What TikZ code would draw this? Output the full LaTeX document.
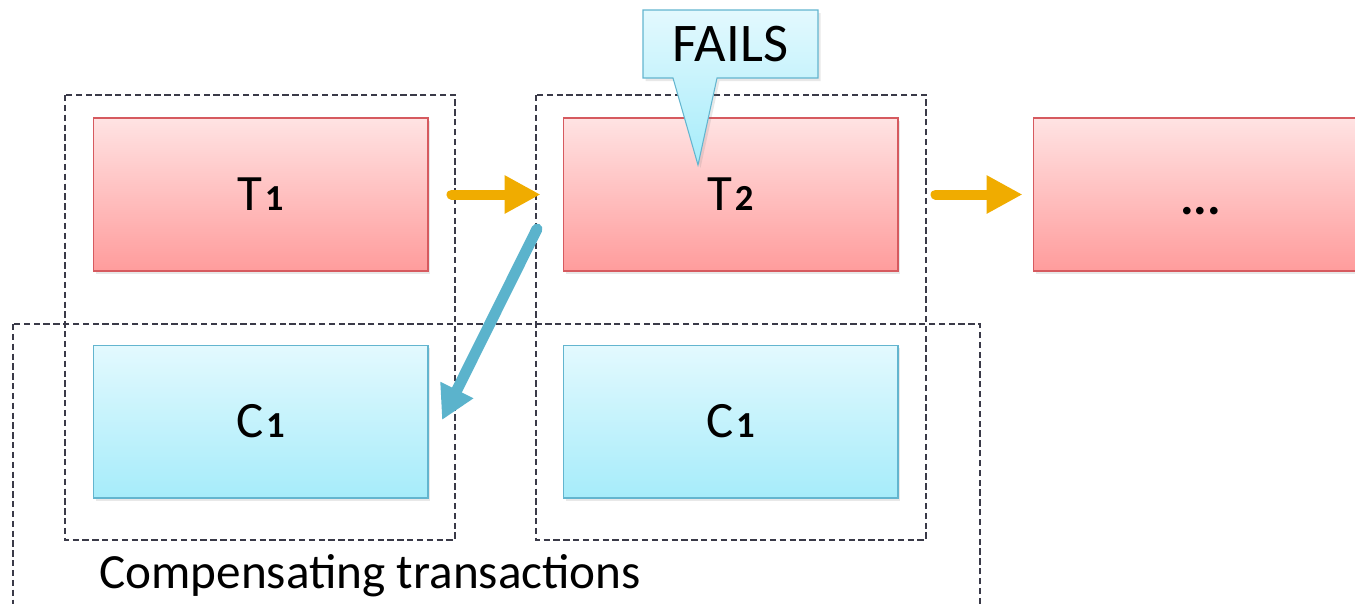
\documentclass[tikz,border=0pt]{standalone}
\usepackage{fontspec}
\setmainfont{Carlito}
\usetikzlibrary{arrows.meta,shadows}
\definecolor{pinktop}{HTML}{FFE3E3}
\definecolor{pinkbot}{HTML}{FF9C9C}
\definecolor{pinkline}{HTML}{D65A5F}
\definecolor{cyantop}{HTML}{E3F9FE}
\definecolor{cyanbot}{HTML}{A6ECFA}
\definecolor{cyanline}{HTML}{63B5CF}
\definecolor{flow}{HTML}{F0AC00}
\definecolor{undo}{HTML}{5BB3CC}
\definecolor{dashgray}{HTML}{3A3A48}
\newcommand{\sub}[1]{\kern1.5pt\scalebox{0.72}{\textbf{#1}}}
\tikzset{
  box/.style={rectangle, minimum width=6.7cm, minimum height=3.06cm,
    line width=0.6pt, font=\fontsize{29}{33}\selectfont, inner sep=0pt,
    drop shadow={opacity=0.18, shadow xshift=0.05cm, shadow yshift=-0.06cm}},
  txbox/.style={box, draw=pinkline, shading=axis, top color=pinktop, bottom color=pinkbot},
  cpbox/.style={box, draw=cyanline, shading=axis, top color=cyantop, bottom color=cyanbot},
  grp/.style={draw=dashgray, line width=1pt, dash pattern=on 3.6pt off 2pt},
  fwd/.style={draw=flow, line width=0.2cm, line cap=round,
    -{Triangle[length=0.72cm, width=0.72cm]}},
  back/.style={draw=undo, line width=0.22cm, line cap=round,
    -{Triangle[length=0.67cm, width=0.69cm]}},
}
\begin{document}
\begin{tikzpicture}[x=0.02cm, y=-0.02cm]
  \useasboundingbox (0,0) rectangle (1355,603);
  \clip (0,0) rectangle (1355,603);

  % transaction steps
  \node[txbox] (T1) at (260.5,194.5) {T\sub{1}};
  \node[txbox] (T2) at (730.5,194.5) {T\sub{2}};
  \node[txbox] (T3) at (1200.5,194.5) {\raisebox{-0.4cm}[0pt][0pt]{\textbf{...}}};

  % compensating steps
  \node[cpbox] (C1a) at (260.5,421.5) {C\sub{1}};
  \node[cpbox] (C1b) at (730.5,421.5) {C\sub{1}};

  % groupings
  \draw[grp] (65,95) rectangle (455,540);
  \draw[grp] (536,95) rectangle (926,540);
  \draw[grp] (13,324) rectangle (980,620);
  \node[anchor=base west, inner sep=0pt, font=\fontsize{28}{32}\selectfont] (comp) at (99,588) {Compensating transactions};

  % forward flow
  \draw[fwd, shorten <=0.46cm, shorten >=0.44cm] (T1.east) -- (T2.west);
  \draw[fwd, shorten <=0.74cm, shorten >=0.2cm] (T2.east) -- (T3.west);

  % rollback
  \coordinate (rbstart) at (537,229);
  \coordinate (rbend) at (442,420);
  \draw[back] (rbstart) -- (rbend);

  % failure callout
  \path[draw=cyanline, line width=0.6pt, shading=axis, top color=cyantop, bottom color=cyanbot,
        drop shadow={opacity=0.18, shadow xshift=0.05cm, shadow yshift=-0.06cm}]
    (643,10) -- (818,10) -- (818,78) -- (717,78) -- (698,165) -- (673,78) -- (643,78) -- cycle;
  \node[font=\fontsize{31}{35}\selectfont] (fails) at (730.5,44) {FAILS};
\end{tikzpicture}
\end{document}
